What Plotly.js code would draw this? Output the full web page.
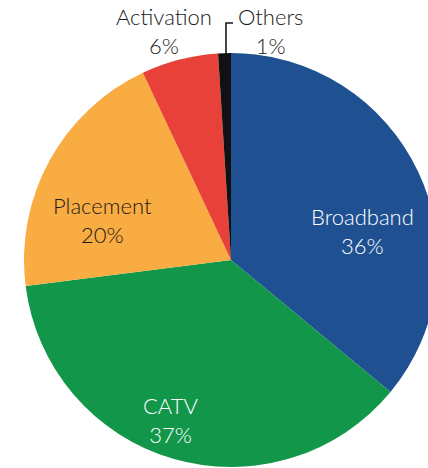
<!DOCTYPE html>
<html>
<head>
<meta charset="utf-8">
<script src="https://cdn.plot.ly/plotly-3.0.1.min.js"></script>
<style>
html,body{margin:0;padding:0;overflow:hidden;background:#fff;}
#chart{width:462px;height:520px;}
</style>
</head>
<body>
<div id="chart"></div>
<script>
const categories = ["Broadband", "CATV", "Placement", "Activation", "Others"];
const shares = [36, 37, 20, 6, 1];
const sliceColors = ["#1f5192", "#12964a", "#f9ac42", "#e8413a", "#111111"];
const textColors = ["#ffffff", "#ffffff", "#1a1a1a", "#1a1a1a", "#1a1a1a"];

// label placement (pixels in the 462x520 canvas) – layout, not data
const labelPos = [[362, 231], [170, 420], [102, 220], [164, 31], [270, 31]];

const W = 462, H = 520;
const FONT = "Lato, 'Open Sans', sans-serif";
const FS = 22;

const trace = {
  type: "pie",
  labels: categories,
  values: shares,
  sort: false,
  direction: "clockwise",
  rotation: 0,
  marker: {colors: sliceColors, line: {color: "#ffffff", width: 0}},
  textinfo: "none",
  hoverinfo: "none",
  domain: {x: [0, 1], y: [0.1019, 0.898]},
  showlegend: false
};

const total = shares.reduce((a, b) => a + b, 0);
const annotations = categories.map((c, i) => ({
  text: c + "<br>" + Math.round(shares[i] / total * 100) + "%",
  xref: "paper", yref: "paper",
  x: labelPos[i][0] / W, y: 1 - labelPos[i][1] / H,
  xanchor: "center", yanchor: "middle",
  showarrow: false, align: "center",
  font: {family: FONT, size: FS, color: textColors[i], weight: 300}
}));

const layout = {
  width: W,
  height: H,
  margin: {l: 0, r: 0, t: 0, b: 0},
  paper_bgcolor: "#ffffff",
  showlegend: false,
  font: {family: FONT, size: FS, color: "#1a1a1a"},
  annotations: annotations,
  shapes: [
    {type: "path", xref: "paper", yref: "paper",
     path: "M " + (226/W) + "," + (1 - 54/H) + " L " + (226/W) + "," + (1 - 23/H) + " L " + (233/W) + "," + (1 - 23/H),
     line: {color: "#1a1a1a", width: 1.6}}
  ]
};

Plotly.newPlot("chart", [trace], layout, {displayModeBar: false, staticPlot: true});
</script>
</body>
</html>
